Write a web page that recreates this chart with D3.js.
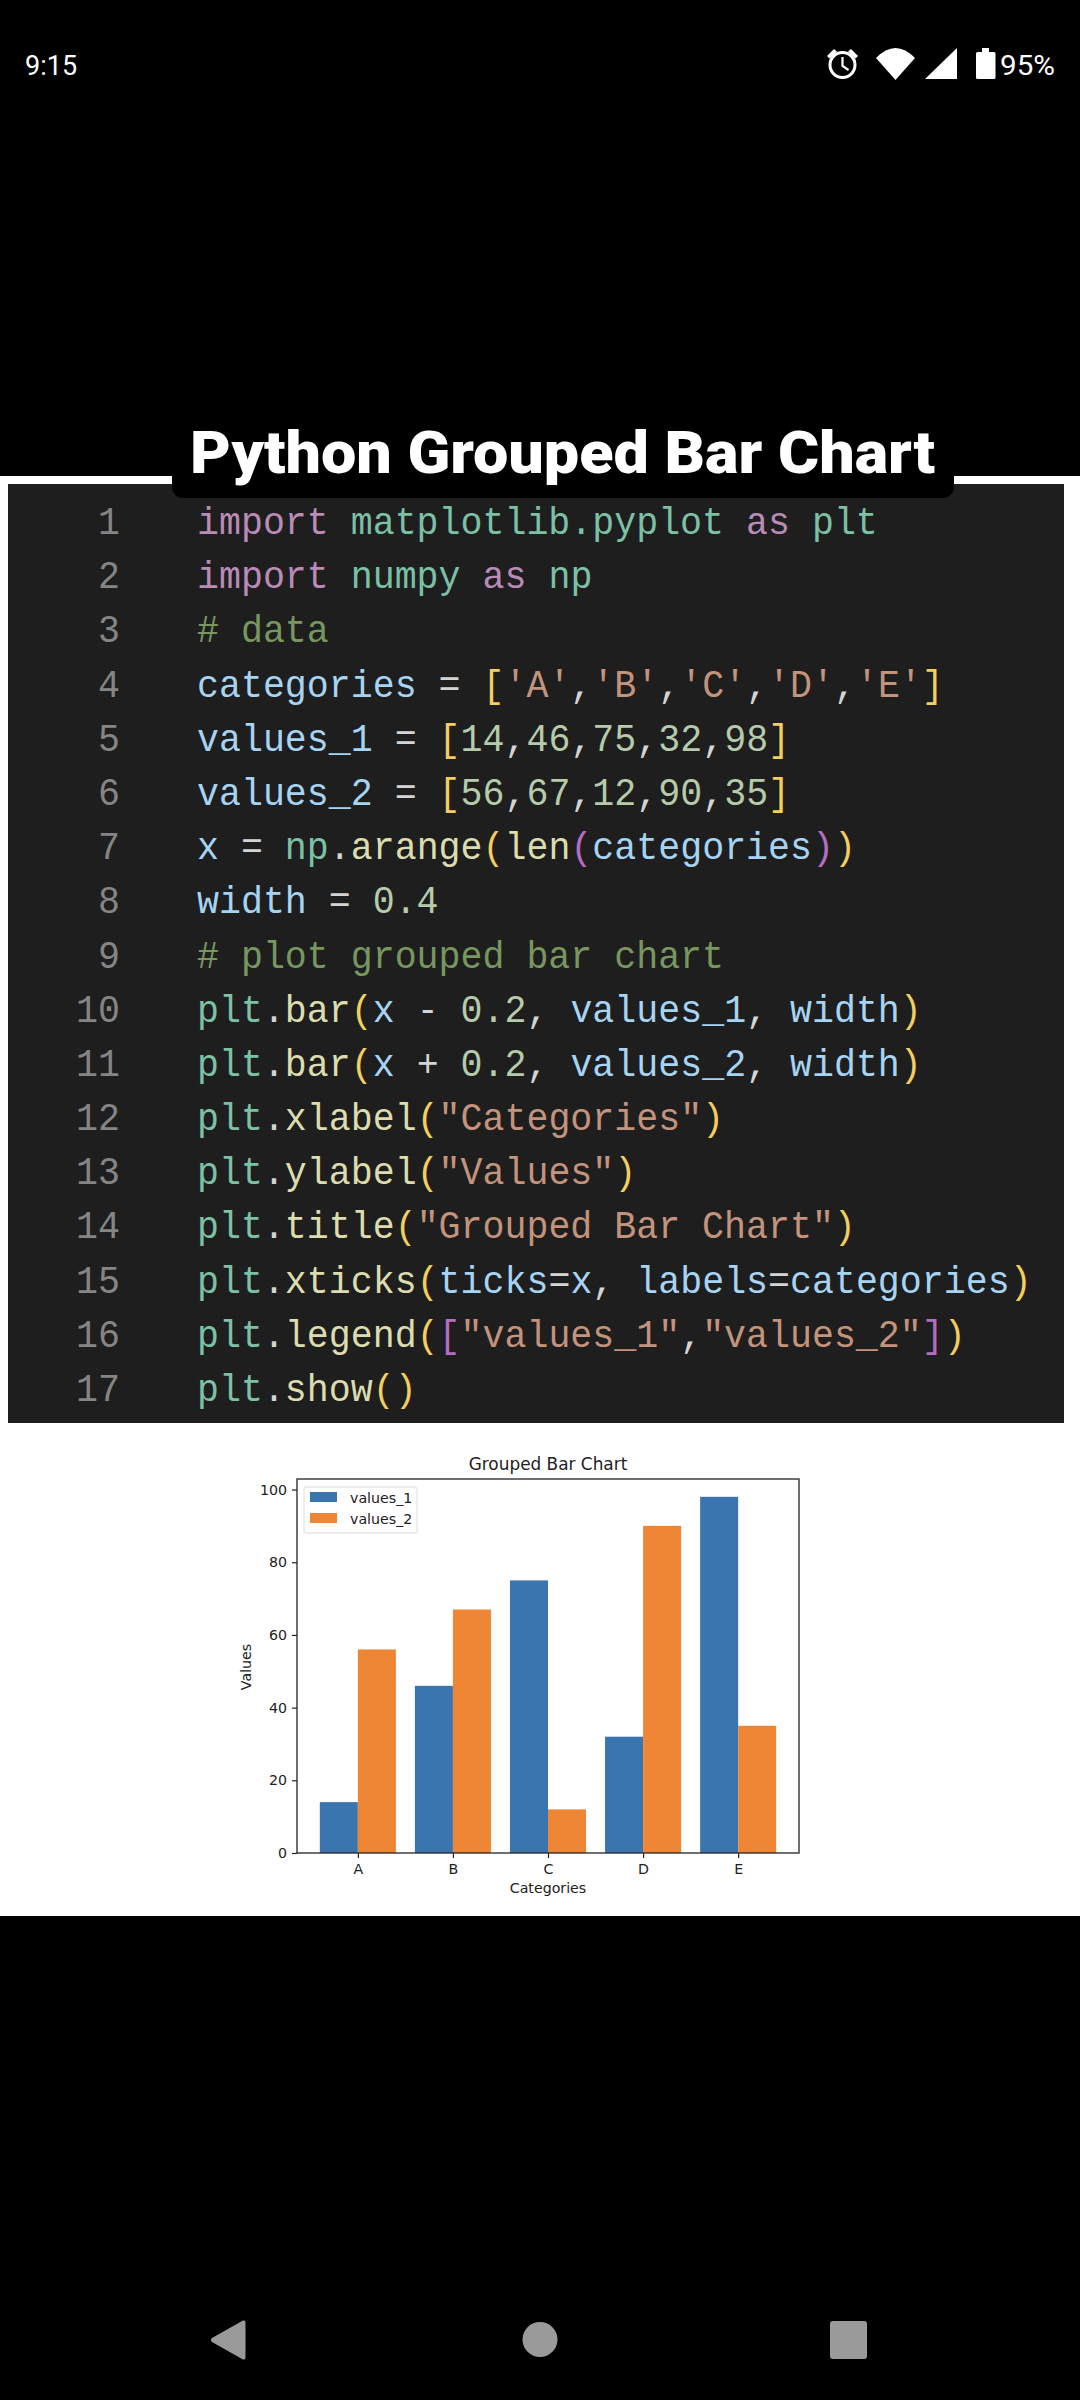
<!DOCTYPE html>
<html>
<head>
<meta charset="utf-8">
<title>Python Grouped Bar Chart</title>
<script src="https://cdn.jsdelivr.net/npm/d3@7"></script>
<style>
html, body { margin: 0; padding: 0; background: #000; }
svg { display: block; }
text { white-space: pre; }
</style>
</head>
<body>
<div id="chart"></div>
<script>
// Chart data
const categories = ['A', 'B', 'C', 'D', 'E'];
const values_1 = [14, 46, 75, 32, 98];
const values_2 = [56, 67, 12, 90, 35];
const seriesNames = ['values_1', 'values_2'];
const yTicks = [0, 20, 40, 60, 80, 100];

// Source listing, one array of [text, role] per line
const codeLines = [
    [['import', 'kw'], [' ', 'op'], ['matplotlib.pyplot', 'mod'], [' ', 'op'], ['as', 'kw'], [' ', 'op'], ['plt', 'mod']],
    [['import', 'kw'], [' ', 'op'], ['numpy', 'mod'], [' ', 'op'], ['as', 'kw'], [' ', 'op'], ['np', 'mod']],
    [['# data', 'com']],
    [['categories', 'var'], [' = ', 'op'], ['[', 'br1'], ["'A'", 'str'], [',', 'op'], ["'B'", 'str'], [',', 'op'], ["'C'", 'str'], [',', 'op'], ["'D'", 'str'], [',', 'op'], ["'E'", 'str'], [']', 'br1']],
    [['values_1', 'var'], [' = ', 'op'], ['[', 'br1'], ['14', 'num'], [',', 'op'], ['46', 'num'], [',', 'op'], ['75', 'num'], [',', 'op'], ['32', 'num'], [',', 'op'], ['98', 'num'], [']', 'br1']],
    [['values_2', 'var'], [' = ', 'op'], ['[', 'br1'], ['56', 'num'], [',', 'op'], ['67', 'num'], [',', 'op'], ['12', 'num'], [',', 'op'], ['90', 'num'], [',', 'op'], ['35', 'num'], [']', 'br1']],
    [['x', 'var'], [' = ', 'op'], ['np', 'mod'], ['.', 'op'], ['arange', 'fn'], ['(', 'br1'], ['len', 'fn'], ['(', 'br2'], ['categories', 'var'], [')', 'br2'], [')', 'br1']],
    [['width', 'var'], [' = ', 'op'], ['0.4', 'num']],
    [['# plot grouped bar chart', 'com']],
    [['plt', 'mod'], ['.', 'op'], ['bar', 'fn'], ['(', 'br1'], ['x', 'var'], [' - ', 'op'], ['0.2', 'num'], [', ', 'op'], ['values_1', 'var'], [', ', 'op'], ['width', 'var'], [')', 'br1']],
    [['plt', 'mod'], ['.', 'op'], ['bar', 'fn'], ['(', 'br1'], ['x', 'var'], [' + ', 'op'], ['0.2', 'num'], [', ', 'op'], ['values_2', 'var'], [', ', 'op'], ['width', 'var'], [')', 'br1']],
    [['plt', 'mod'], ['.', 'op'], ['xlabel', 'fn'], ['(', 'br1'], ['"Categories"', 'str'], [')', 'br1']],
    [['plt', 'mod'], ['.', 'op'], ['ylabel', 'fn'], ['(', 'br1'], ['"Values"', 'str'], [')', 'br1']],
    [['plt', 'mod'], ['.', 'op'], ['title', 'fn'], ['(', 'br1'], ['"Grouped Bar Chart"', 'str'], [')', 'br1']],
    [['plt', 'mod'], ['.', 'op'], ['xticks', 'fn'], ['(', 'br1'], ['ticks', 'var'], ['=', 'op'], ['x', 'var'], [', ', 'op'], ['labels', 'var'], ['=', 'op'], ['categories', 'var'], [')', 'br1']],
    [['plt', 'mod'], ['.', 'op'], ['legend', 'fn'], ['(', 'br1'], ['[', 'br2'], ['"values_1"', 'str'], [',', 'op'], ['"values_2"', 'str'], [']', 'br2'], [')', 'br1']],
    [['plt', 'mod'], ['.', 'op'], ['show', 'fn'], ['(', 'br1'], [')', 'br1']]
];

const roleColor = {
    kw: '#bb8bb8', mod: '#7cc0a6', var: '#a6d4f2', fn: '#dcdcae', str: '#c4937c',
    com: '#78975f', num: '#b5cbaa', op: '#d4d4d4', br1: '#f2cf5e', br2: '#b56fc0'
};

const svg = d3.select('#chart')
    .append('svg')
    .attr('width', 1080)
    .attr('height', 2400);

svg.append('rect').attr('width', 1080).attr('height', 2400).attr('fill', '#000');

// White card behind the code and the plot
svg.append('rect')
    .attr('x', 0).attr('y', 476)
    .attr('width', 1080).attr('height', 1440)
    .attr('fill', '#fff');

// Code panel
svg.append('rect')
    .attr('x', 8).attr('y', 484)
    .attr('width', 1056).attr('height', 939)
    .attr('fill', '#1e1e1e');

// Title banner
svg.append('rect')
    .attr('x', 172).attr('y', 460)
    .attr('width', 782).attr('height', 38)
    .attr('rx', 11)
    .attr('fill', '#000');

svg.append('text')
    .attr('x', 190).attr('y', 473)
    .attr('textLength', 745)
    .attr('lengthAdjust', 'spacingAndGlyphs')
    .style('font', '900 59px Roboto')
    .attr('fill', '#fff')
    .text('Python Grouped Bar Chart');

// Code listing, a narrowed mono to get the tall look of the editor font
const lineY = d3.scaleLinear().domain([0, 16]).range([534, 1401]);
const codeFont = '38.5px "Liberation Mono"';
const codeScale = 'scale(0.951, 1)';

svg.append('g').selectAll('text')
    .data(codeLines)
    .join('text')
    .attr('transform', (d, i) => `translate(120, ${lineY(i)}) ${codeScale}`)
    .attr('text-anchor', 'end')
    .attr('fill', '#858585')
    .style('font', codeFont)
    .text((d, i) => i + 1);

svg.append('g').selectAll('text')
    .data(codeLines)
    .join('text')
    .attr('transform', (d, i) => `translate(197, ${lineY(i)}) ${codeScale}`)
    .style('font', codeFont)
    .selectAll('tspan')
    .data(d => d)
    .join('tspan')
    .attr('fill', d => roleColor[d[1]])
    .text(d => d[0]);

// Plot
const dim = { left: 297, right: 799, top: 1479, bottom: 1853 };
const tickFont = '14.2px "DejaVu Sans"';
const barColor = ['#3a75af', '#ef8636'];
const barWidth = 0.4;

const x = d3.scaleLinear()
    .domain([-0.64, 4.64])
    .range([dim.left, dim.right]);

const y = d3.scaleLinear()
    .domain([0, 102.9])
    .range([dim.bottom, dim.top]);

const series = [values_1, values_2];
const plot = svg.append('g');

plot.selectAll('g.series')
    .data(series)
    .join('g')
    .attr('class', 'series')
    .attr('fill', (d, i) => barColor[i])
    .selectAll('rect')
    .data((d, s) => d.map((v, i) => ({ v, i, s })))
    .join('rect')
    .attr('x', d => x(d.i + (d.s === 0 ? -barWidth : 0)))
    .attr('y', d => y(d.v))
    .attr('width', x(barWidth) - x(0))
    .attr('height', d => y(0) - y(d.v));

// Axes
const xAxis = plot.append('g')
    .attr('transform', `translate(0, ${dim.bottom})`)
    .call(d3.axisBottom(x)
        .tickValues(d3.range(categories.length))
        .tickFormat(i => categories[i])
        .tickSize(5)
        .tickPadding(6)
        .tickSizeOuter(0));

const yAxis = plot.append('g')
    .attr('transform', `translate(${dim.left}, 0)`)
    .call(d3.axisLeft(y)
        .tickValues(yTicks)
        .tickSize(5)
        .tickPadding(5)
        .tickSizeOuter(0));

[xAxis, yAxis].forEach(a => {
    a.select('.domain').remove();
    a.selectAll('line').attr('stroke', '#222').attr('stroke-width', 1.2);
    a.selectAll('text').style('font', tickFont).attr('fill', '#222');
});

// Frame
plot.append('rect')
    .attr('x', dim.left).attr('y', dim.top)
    .attr('width', dim.right - dim.left)
    .attr('height', dim.bottom - dim.top)
    .attr('fill', 'none')
    .attr('stroke', '#222')
    .attr('stroke-width', 1.3);

plot.append('text')
    .attr('x', 548).attr('y', 1470)
    .attr('text-anchor', 'middle')
    .attr('fill', '#222')
    .style('font', '16.9px "DejaVu Sans"')
    .text('Grouped Bar Chart');

plot.append('text')
    .attr('x', 548).attr('y', 1893)
    .attr('text-anchor', 'middle')
    .attr('fill', '#222')
    .style('font', tickFont)
    .text('Categories');

plot.append('text')
    .attr('transform', 'translate(251, 1667) rotate(-90)')
    .attr('text-anchor', 'middle')
    .attr('fill', '#222')
    .style('font', tickFont)
    .text('Values');

// Legend
const legend = plot.append('g');

legend.append('rect')
    .attr('x', 304).attr('y', 1487)
    .attr('width', 113).attr('height', 46)
    .attr('rx', 2)
    .attr('fill', '#fff')
    .attr('stroke', '#dcdcdc');

const legendRow = legend.selectAll('g')
    .data(seriesNames)
    .join('g')
    .attr('transform', (d, i) => `translate(0, ${i * 21})`);

legendRow.append('rect')
    .attr('x', 310).attr('y', 1492)
    .attr('width', 27).attr('height', 10)
    .attr('fill', (d, i) => barColor[i]);

legendRow.append('text')
    .attr('x', 350).attr('y', 1503)
    .attr('fill', '#222')
    .style('font', tickFont)
    .text(d => d);

// Phone status bar
svg.append('text')
    .attr('x', 25).attr('y', 75)
    .attr('fill', '#fff')
    .style('font', '27px Roboto')
    .text('9:15');

svg.append('text')
    .attr('x', 1000).attr('y', 75)
    .attr('textLength', 55)
    .attr('lengthAdjust', 'spacingAndGlyphs')
    .attr('fill', '#fff')
    .style('font', '28px Roboto')
    .text('95%');

const status = svg.append('g').attr('fill', '#fff');

// alarm clock
status.append('circle')
    .attr('cx', 842.5).attr('cy', 65).attr('r', 12.5)
    .attr('fill', 'none').attr('stroke', '#fff').attr('stroke-width', 3);
status.append('path')
    .attr('d', 'M842.5 57v9l6 4')
    .attr('fill', 'none').attr('stroke', '#fff').attr('stroke-width', 2.2);
status.append('path').attr('d', 'M827 56l7-7 3 2.5-7.5 7z');
status.append('path').attr('d', 'M858 56l-7-7-3 2.5 7.5 7z');
// wifi, signal, battery
status.append('path').attr('d', 'M876 58Q895.5 38 915 58L895.5 80z');
status.append('path').attr('d', 'M925 79L957 48V79z');
status.append('path').attr('d', 'M982 48h7v4h5a1.5 1.5 0 0 1 1.5 1.5V77.5a1.5 1.5 0 0 1-1.5 1.5H977.5a1.5 1.5 0 0 1-1.5-1.5V53.5a1.5 1.5 0 0 1 1.5-1.5h4.5z');

// Navigation bar
const nav = svg.append('g').attr('fill', '#9a9a9a');
nav.append('path')
    .attr('d', 'M243 2320.5a2 2 0 0 1 2.5 2V2357.5a2 2 0 0 1-2.5 2L212 2342a2.5 2.5 0 0 1 0-4z');
nav.append('circle').attr('cx', 540).attr('cy', 2339.5).attr('r', 17.5);
nav.append('rect')
    .attr('x', 830).attr('y', 2321)
    .attr('width', 37).attr('height', 38)
    .attr('rx', 3);
</script>
</body>
</html>
